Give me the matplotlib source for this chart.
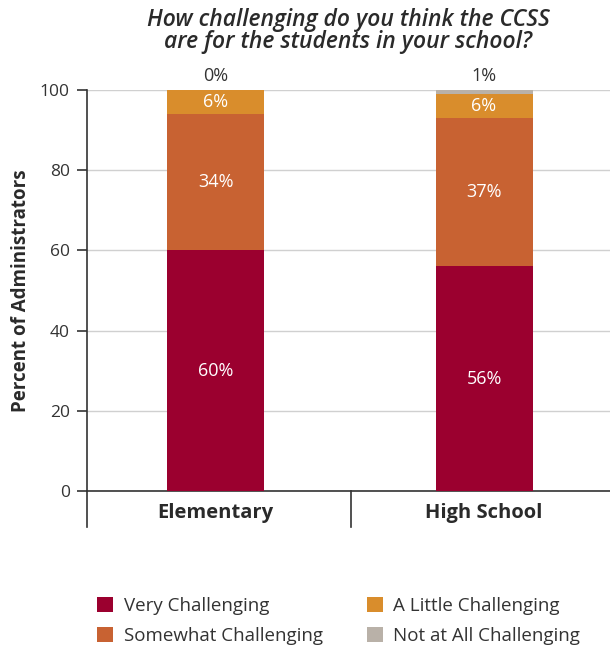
import matplotlib.pyplot as plt
import numpy as np

plt.rcParams['font.family'] = ['Open Sans', 'DejaVu Sans']

# data
categories = ["Elementary", "High School"]
series_names = ["Very Challenging", "Somewhat Challenging",
                "A Little Challenging", "Not at All Challenging"]
very = [60, 56]
somewhat = [34, 37]
a_little = [6, 6]
not_at_all = [0, 1]
colors = ["#9b002f", "#c86232", "#d98d2c", "#b9b1a8"]

fig = plt.figure(figsize=(6.10, 6.48), dpi=100)
ax = fig.add_axes([87 / 610, 1 - 491 / 648, 1 - 87 / 610, 401 / 648])

x = np.arange(len(categories))
width = 0.361
bottom = np.zeros(len(categories))
for vals, name, col in zip([very, somewhat, a_little, not_at_all], series_names, colors):
    vals = np.array(vals, dtype=float)
    ax.bar(x, vals, width, bottom=bottom, color=col, label=name, zorder=3)
    for i, v in enumerate(vals):
        if name == "Not at All Challenging":
            ax.text(x[i], 101.3, f"{v:.0f}%", ha="center", va="bottom",
                    fontsize=13, color="#333333", clip_on=False)
        else:
            ax.text(x[i], bottom[i] + v / 2, f"{v:.0f}%", ha="center", va="center",
                    fontsize=13, color="white", zorder=4)
    bottom += vals

ax.set_xlim(-0.4786, 1.469)
ax.set_ylim(0, 100)
ax.set_yticks([0, 20, 40, 60, 80, 100])
ax.tick_params(axis="y", direction="out", length=7.5, width=1.2, color="#333333",
               labelsize=12.5, labelcolor="#333333", pad=5)
ax.set_xticks([])
ax.yaxis.grid(True, color="#d0d0d0", linewidth=1, zorder=0)
for s in ["top", "right"]:
    ax.spines[s].set_visible(False)
ax.spines["left"].set_color("#333333")
ax.spines["left"].set_linewidth(1.2)
ax.spines["bottom"].set_color("#333333")
ax.spines["bottom"].set_linewidth(1.2)

# category separators below the axis
for xb in [-0.4786, 0.505]:
    ax.plot([xb, xb], [0, -9], color="#333333", linewidth=1.2, clip_on=False)
for i, c in enumerate(categories):
    ax.text(x[i], -5.6, c, ha="center", va="center", fontsize=14.5,
            fontweight="bold", color="#2a2a2a", clip_on=False)

ax.set_ylabel("Percent of Administrators", fontsize=13.5, fontweight="bold",
              color="#2a2a2a", labelpad=6)

ax.set_title("How challenging do you think the CCSS\nare for the students in your school?",
             fontsize=16.5, fontstyle="italic", fontweight=600, color="#2a2a2a",
             pad=30, linespacing=0.92)

handles, labels = ax.get_legend_handles_labels()
fig.legend(handles, labels, ncol=2,
           loc="center left", bbox_to_anchor=(97 / 610, 1 - 621 / 648), frameon=False,
           borderpad=0, borderaxespad=0,
           fontsize=13.5, handlelength=0.85, handleheight=0.85, handletextpad=0.57,
           columnspacing=2.35, labelspacing=0.6, labelcolor="#333333")

fig.savefig("out.png", dpi=100)
